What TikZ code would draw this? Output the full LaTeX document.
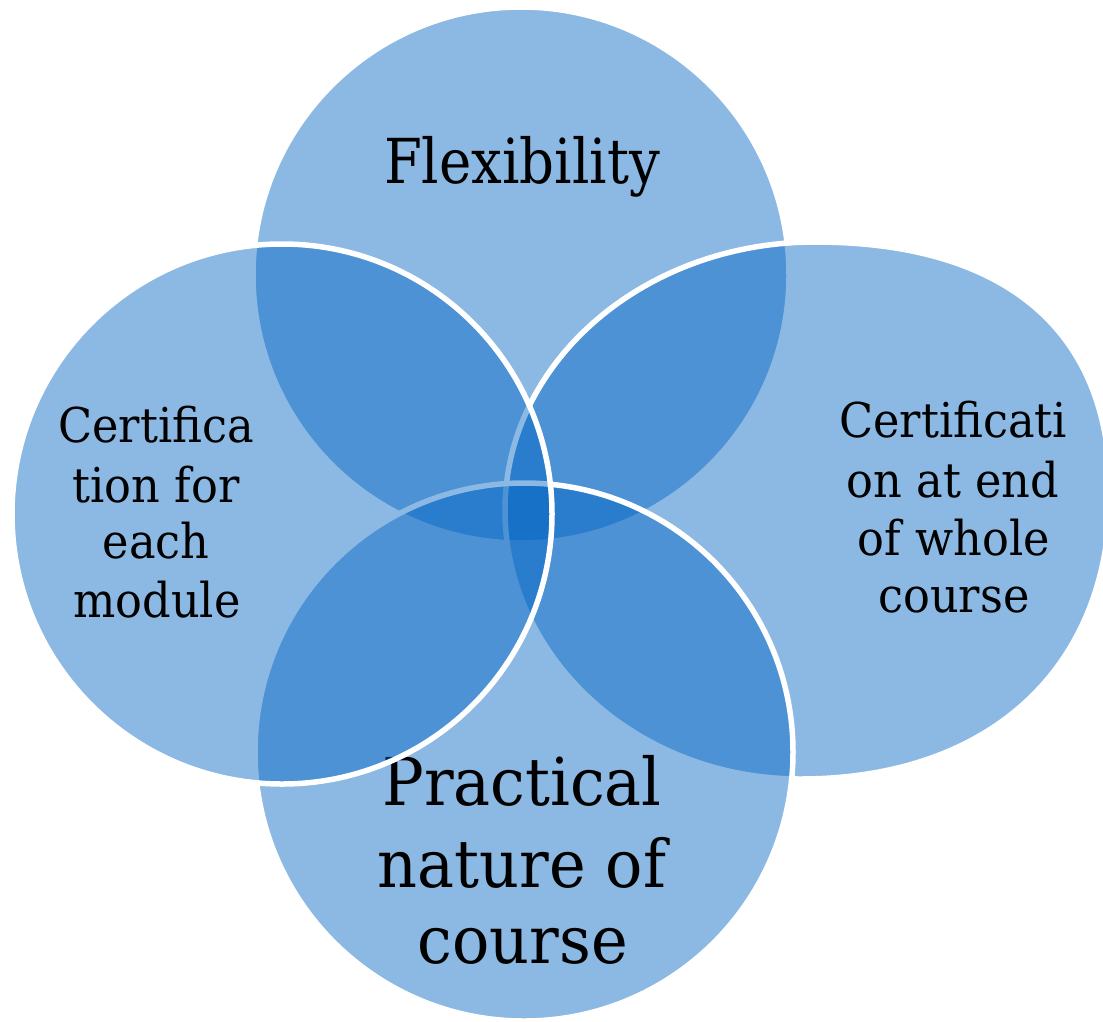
\documentclass[tikz,border=0pt]{standalone}
\usepackage{fontspec}
\setmainfont{DejaVu Serif}
\newfontfamily\bigfnt{DejaVu Serif}[FakeStretch=0.94]
\newfontfamily\flexfnt{DejaVu Serif}[FakeStretch=0.88]
\newfontfamily\smallfnt{DejaVu Serif}[FakeStretch=0.93]
\definecolor{vblue}{RGB}{0,100,195}
\tikzset{
  venn/.style={fill=vblue, fill opacity=0.45, draw=white, line width=5.5pt},
  bigtext/.style={font=\bigfnt\fontsize{66}{79}\selectfont, anchor=base, text=black, inner sep=0pt},
  flextext/.style={font=\flexfnt\fontsize{62}{74}\selectfont, anchor=base, text=black, inner sep=0pt},
  smalltext/.style={font=\smallfnt\fontsize{48}{58}\selectfont, anchor=base, text=black, inner sep=0pt}
}
\begin{document}
\begin{tikzpicture}[x=1pt,y=-1pt]
\useasboundingbox (0,0) rectangle (1103,1021);
\clip (0,0) rectangle (1103,1021);
\fill[white] (0,0) rectangle (1103,1021);
% top circle
\path[venn] (521,275) circle[radius=268pt];
\node[flextext] (flex) at (522,183) {Flexibility};
% right shape
\path[venn] (505,510) .. controls (505,362) and (644,242) .. (815,242)
  .. controls (1005,242) and (1110,330) .. (1110,492)
  .. controls (1110,668) and (990,779) .. (800,779)
  .. controls (637,779) and (505,658) .. cycle;
\node[smalltext] (r1) at (953,437) {Certificati};
\node[smalltext] (r2) at (953,497) {on at end};
\node[smalltext] (r3) at (954,555) {of whole};
\node[smalltext] (r4) at (954,612) {course};
% bottom circle
\path[venn] (524,752) circle[radius=269pt];
\node[bigtext] (b1) at (522,805) {Practical};
\node[bigtext] (b2) at (522,887) {nature of};
\node[bigtext] (b3) at (523,963) {course};
% left circle
\path[venn] (282,514) circle[radius=270pt];
\node[smalltext] (l1) at (156,442) {Certifica};
\node[smalltext] (l2) at (156,502) {tion for};
\node[smalltext] (l3) at (156,558) {each};
\node[smalltext] (l4) at (157,617) {module};
\end{tikzpicture}
\end{document}
